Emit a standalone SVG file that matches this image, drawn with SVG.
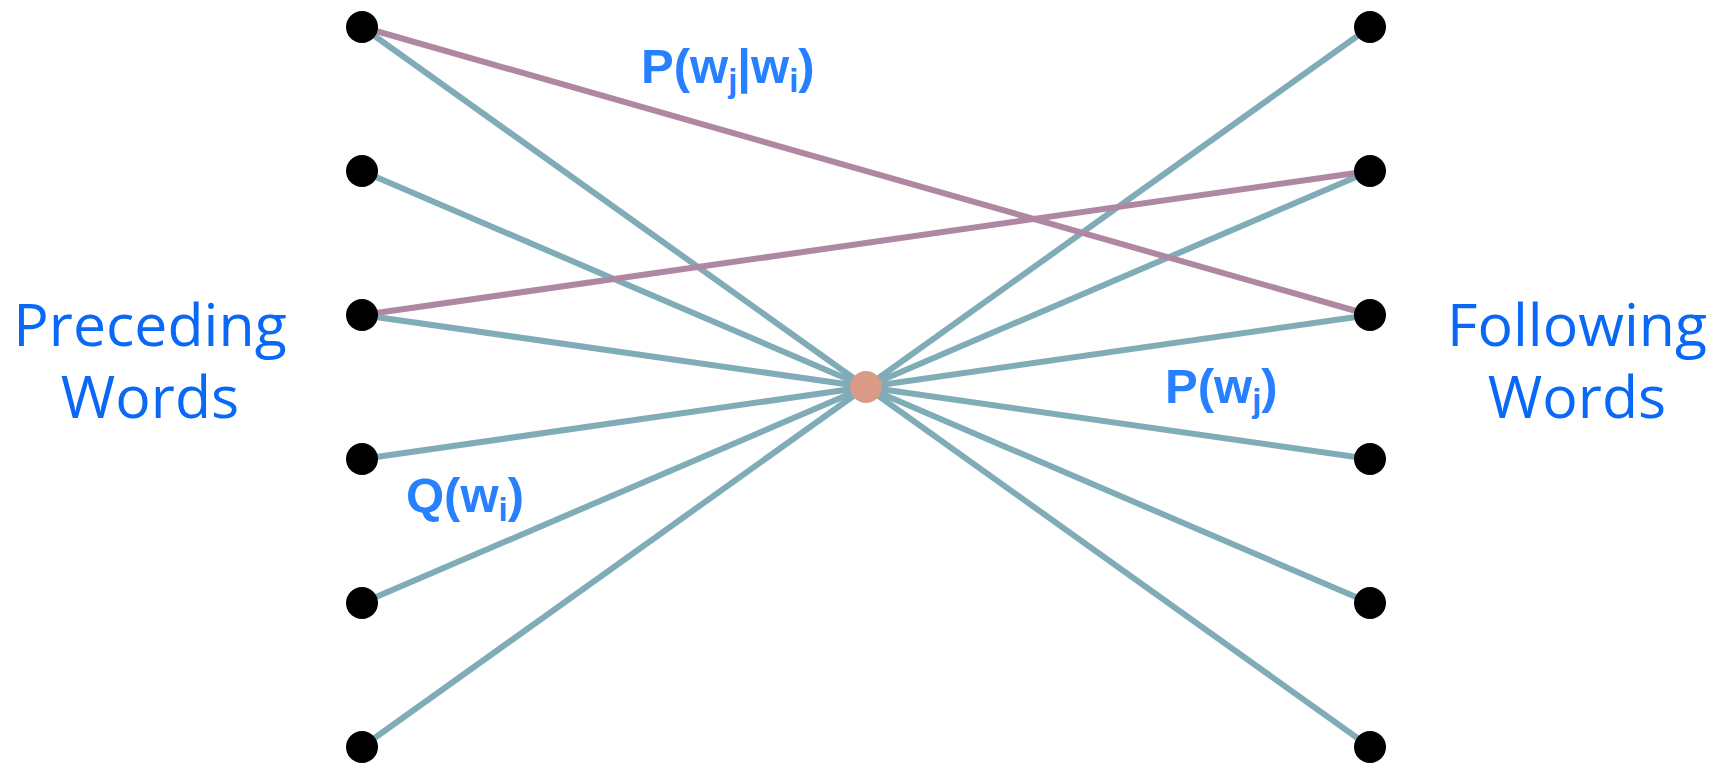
<svg xmlns="http://www.w3.org/2000/svg" width="1718" height="763" viewBox="0 0 1718 763">
  <style>
    .edge { stroke: #80acb8; stroke-width: 6; fill: none; }
    .pair { stroke: #af87a3; stroke-width: 6; fill: none; }
    .word { fill: #000000; }
    .hub { fill: #d99b85; }
    .side { font-family: "Open Sans", "DejaVu Sans", sans-serif; font-size: 59px; fill: #0a68f7; text-anchor: middle; }
    .prob { font-family: "Liberation Sans", Arial, sans-serif; font-size: 49px; font-weight: bold; fill: #2680ff; }
    .sub { font-size: 33px; }
  </style>

  <!-- connectors: every word links through the hub; two direct pair links on top -->
  <g id="connectors">
    <line class="edge" x1="362" y1="27" x2="866" y2="387"/>
    <line class="edge" x1="362" y1="171" x2="866" y2="387"/>
    <line class="edge" x1="362" y1="315" x2="866" y2="387"/>
    <line class="edge" x1="362" y1="459" x2="866" y2="387"/>
    <line class="edge" x1="362" y1="603" x2="866" y2="387"/>
    <line class="edge" x1="362" y1="747" x2="866" y2="387"/>
    <line class="edge" x1="1370" y1="27" x2="866" y2="387"/>
    <line class="edge" x1="1370" y1="171" x2="866" y2="387"/>
    <line class="edge" x1="1370" y1="315" x2="866" y2="387"/>
    <line class="edge" x1="1370" y1="459" x2="866" y2="387"/>
    <line class="edge" x1="1370" y1="603" x2="866" y2="387"/>
    <line class="edge" x1="1370" y1="747" x2="866" y2="387"/>
    <line class="pair" x1="362" y1="27" x2="1370" y2="315"/>
    <line class="pair" x1="362" y1="315" x2="1370" y2="171"/>
  </g>

  <!-- preceding words -->
  <g id="left-1"><circle class="word" cx="362" cy="27" r="16"/></g>
  <g id="left-2"><circle class="word" cx="362" cy="171" r="16"/></g>
  <g id="left-3"><circle class="word" cx="362" cy="315" r="16"/></g>
  <g id="left-4"><circle class="word" cx="362" cy="459" r="16"/></g>
  <g id="left-5"><circle class="word" cx="362" cy="603" r="16"/></g>
  <g id="left-6"><circle class="word" cx="362" cy="747" r="16"/></g>

  <!-- following words -->
  <g id="right-1"><circle class="word" cx="1370" cy="27" r="16"/></g>
  <g id="right-2"><circle class="word" cx="1370" cy="171" r="16"/></g>
  <g id="right-3"><circle class="word" cx="1370" cy="315" r="16"/></g>
  <g id="right-4"><circle class="word" cx="1370" cy="459" r="16"/></g>
  <g id="right-5"><circle class="word" cx="1370" cy="603" r="16"/></g>
  <g id="right-6"><circle class="word" cx="1370" cy="747" r="16"/></g>

  <!-- hub -->
  <g id="hub"><circle class="hub" cx="866" cy="387" r="16"/></g>

  <!-- side captions -->
  <g id="preceding-label">
    <text class="side" x="150" y="346">Preceding</text>
    <text class="side" x="150" y="418">Words</text>
  </g>
  <g id="following-label">
    <text class="side" x="1577" y="346">Following</text>
    <text class="side" x="1577" y="418">Words</text>
  </g>

  <!-- probability labels -->
  <g id="label-pair">
    <text class="prob" x="641" y="83">P(w<tspan class="sub" dy="9">j</tspan><tspan dy="-9">|w</tspan><tspan class="sub" dy="9">i</tspan><tspan dy="-9">)</tspan></text>
  </g>
  <g id="label-q">
    <text class="prob" x="406" y="512">Q(w<tspan class="sub" dy="9">i</tspan><tspan dy="-9">)</tspan></text>
  </g>
  <g id="label-p">
    <text class="prob" x="1165" y="403">P(w<tspan class="sub" dy="9">j</tspan><tspan dy="-9">)</tspan></text>
  </g>
</svg>
